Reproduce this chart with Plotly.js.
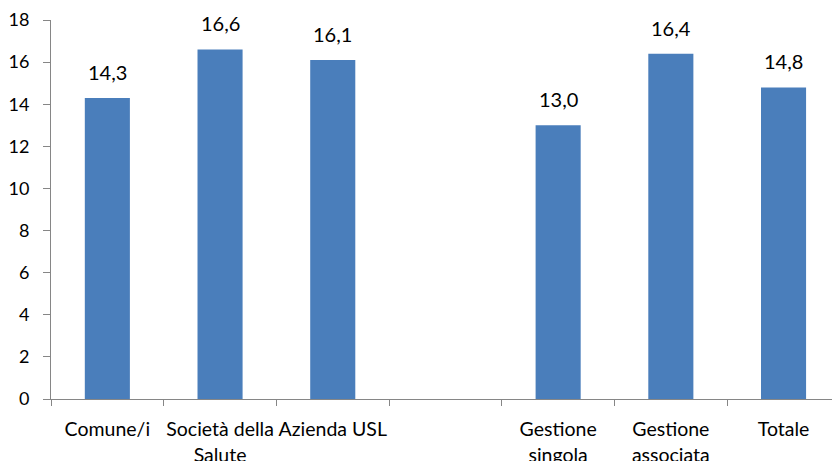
<!DOCTYPE html>
<html>
<head>
<meta charset="utf-8">
<script src="https://cdn.plot.ly/plotly-3.0.1.min.js"></script>
<style>
  html, body { margin: 0; padding: 0; background: #fff; overflow: hidden; }
  #chart { width: 832px; height: 461px; }
</style>
</head>
<body>
<div id="chart"></div>
<script>
// Categories (one blank slot separates the two groups)
const categories = ["Comune/i", "Società della<br>Salute", "Azienda USL", " ", "Gestione<br>singola", "Gestione<br>associata", "Totale"];
const values = [14.3, 16.6, 16.1, null, 13.0, 16.4, 14.8];
const valueLabels = ["14,3", "16,6", "16,1", "", "13,0", "16,4", "14,8"];
const yTicks = [0, 2, 4, 6, 8, 10, 12, 14, 16, 18];

const FONT = "Lato, 'Open Sans', sans-serif";
const axisGray = "#868686";

const bars = {
  type: "bar",
  x: categories,
  y: values,
  marker: { color: "#4a7ebb", line: { width: 0 } },
  hoverinfo: "skip"
};

// Value labels above each bar
const annotations = categories.map((c, i) => values[i] == null ? null : ({
  x: c, y: values[i], xref: "x", yref: "y",
  text: valueLabels[i], showarrow: false,
  yanchor: "bottom", yshift: 12,
  font: { family: FONT, size: 20, color: "#000" }
})).filter(a => a);

const layout = {
  width: 832, height: 461,
  margin: { l: 51, r: 0, t: 20, b: 62 },
  paper_bgcolor: "#fff", plot_bgcolor: "#fff",
  showlegend: false,
  bargap: 0.6,
  font: { family: FONT, color: "#000" },
  xaxis: {
    type: "category",
    range: [-0.5, 6.43],
    tickson: "boundaries",
    ticks: "outside", ticklen: 6, tickcolor: axisGray, tickwidth: 1,
    ticklabelstandoff: 13,
    showline: true, linecolor: axisGray, linewidth: 1,
    showgrid: false, zeroline: false,
    tickfont: { family: FONT, size: 19.5, color: "#000" },
    tickangle: 0
  },
  yaxis: {
    range: [0, 18],
    tickvals: yTicks,
    ticktext: yTicks.map(String),
    ticks: "outside", ticklen: 7, tickcolor: axisGray, tickwidth: 1,
    ticklabelstandoff: 10,
    showline: true, linecolor: axisGray, linewidth: 1,
    showgrid: false, zeroline: false,
    tickfont: { family: FONT, size: 18, color: "#000" }
  },
  annotations: annotations
};

Plotly.newPlot("chart", [bars], layout, { staticPlot: true, displayModeBar: false });
</script>
</body>
</html>
